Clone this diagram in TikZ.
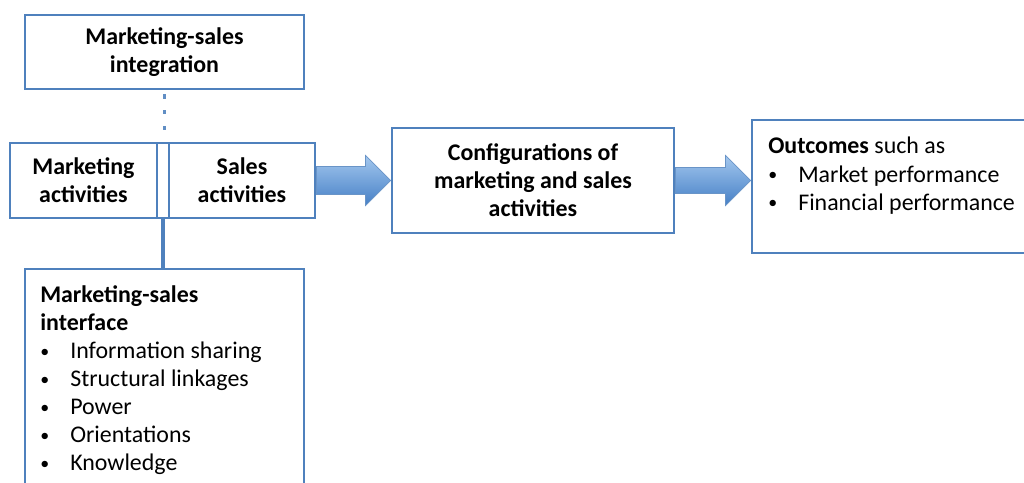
\documentclass[tikz,border=0pt]{standalone}
\usepackage{fontspec}
\setmainfont{Carlito}
\usepackage{tikz}
\usetikzlibrary{calc}
\definecolor{boxblue}{RGB}{79,129,189}
\definecolor{arrowlight}{RGB}{163,199,238}
\definecolor{arrowdark}{RGB}{70,128,198}
\newcommand{\bulletitem}[1]{\makebox[0.75cm][l]{\raisebox{0.1ex}{\scalebox{0.75}{\textbullet}}}#1}

\begin{document}
\begin{tikzpicture}[x=0.025cm,y=-0.025cm,
    font=\fontsize{17}{20}\selectfont,
    box/.style={draw=boxblue,line width=2pt,inner sep=0pt},
    title/.style={font=\fontsize{17}{20}\selectfont\bfseries,align=center},
    listtext/.style={anchor=north west,align=left,inner sep=0pt},
    blockarrow/.style={draw=boxblue!85,line width=0.5pt,top color=arrowlight,bottom color=arrowdark},
    dotline/.style={draw=boxblue!90,line width=2.8pt,dash pattern=on 3pt off 8.3pt,dash phase=8.5pt},
    link/.style={draw=boxblue,line width=2.2pt}]
    \useasboundingbox (0,0) rectangle (1024,482);
    \node [box,title,minimum width=6.975cm,minimum height=1.85cm] (integration) at (164.5,52) {Marketing-sales\\integration};
    \node [box,title,minimum width=3.675cm,minimum height=1.875cm] (marketing) at (83.5,180.5) {Marketing\\activities};
    \node [box,minimum width=0.3cm,minimum height=1.875cm] (gap) at (163,180.5) {};
    \node [box,title,minimum width=3.65cm,minimum height=1.875cm] (sales) at (242,180.5) {Sales\\activities};
    \node [box,minimum width=6.975cm,minimum height=5.8cm] (interface) at (164.5,385) {};
    \node [listtext] (interfacetext) at (40,285) {\textbf{Marketing-sales}\\\textbf{interface}\\
        \bulletitem{Information sharing}\\\bulletitem{Structural linkages}\\\bulletitem{Power}\\
        \bulletitem{Orientations}\\\bulletitem{Knowledge}};
    \node [box,title,minimum width=7.05cm,minimum height=2.625cm] (config) at (533,180.5) {Configurations of\\marketing and sales\\activities};
    \node [box,minimum width=6.95cm,minimum height=3.325cm] (outcomes) at (891,186.5) {};
    \node [listtext] (outcomestext) at (768,137) {\textbf{Outcomes} such as\\
        \bulletitem{Market performance}\\\bulletitem{Financial performance}};
    \draw [dotline] (integration.south) -- (integration.south |- gap.north);
    \draw [link] (gap.south) -- (gap.south |- interface.north);
    \coordinate (tipone) at (config.west);
    \coordinate (tiptwo) at (outcomes.west |- config.east);
    \path [blockarrow] ($(sales.east)+(0,-14)$) -- ($(tipone)+(-25,-14)$) -- ($(tipone)+(-25,-25)$) -- (tipone)
        -- ($(tipone)+(-25,25)$) -- ($(tipone)+(-25,14)$) -- ($(sales.east)+(0,14)$) -- cycle;
    \path [blockarrow] ($(config.east)+(0,-13)$) -- ($(tiptwo)+(-25,-13)$) -- ($(tiptwo)+(-25,-25)$) -- (tiptwo)
        -- ($(tiptwo)+(-25,25)$) -- ($(tiptwo)+(-25,13)$) -- ($(config.east)+(0,13)$) -- cycle;
\end{tikzpicture}
\end{document}
